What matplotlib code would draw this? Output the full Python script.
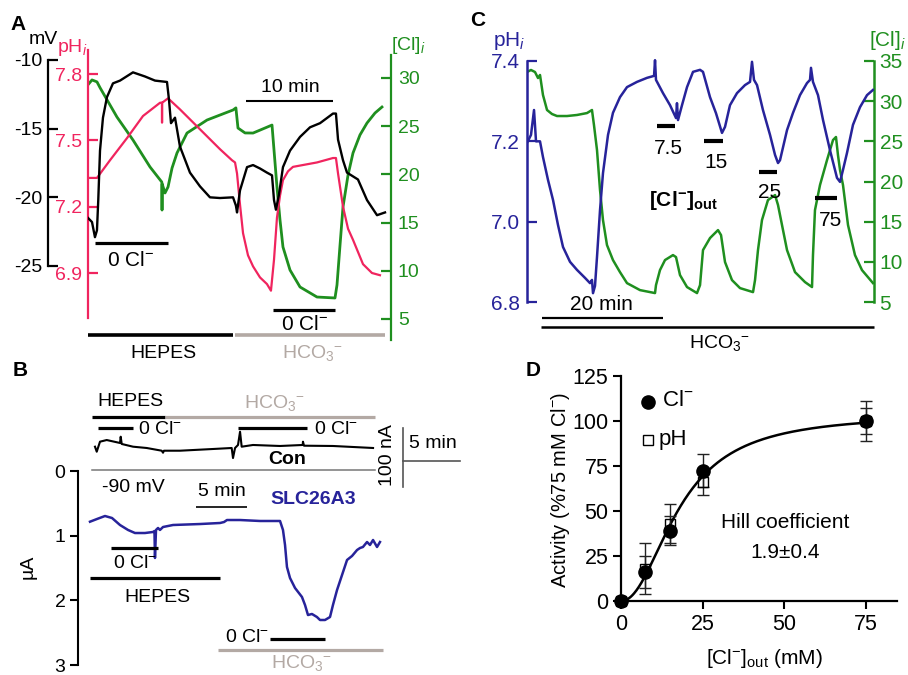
import numpy as np
import matplotlib
matplotlib.use("Agg")
import matplotlib.pyplot as plt
from matplotlib.transforms import blended_transform_factory as blend

plt.rcParams['font.family'] = ['Liberation Sans', 'DejaVu Sans']
plt.rcParams['mathtext.fontset'] = 'custom'
plt.rcParams['mathtext.rm'] = 'Liberation Sans'
plt.rcParams['mathtext.it'] = 'Liberation Sans:italic'
plt.rcParams['mathtext.bf'] = 'Liberation Sans:bold'
plt.rcParams['axes.unicode_minus'] = False

# ---------------- colours ----------------
RED = '#f0245e'
GREEN = '#1f8f1f'
BLUE = '#27239a'
GRAY = '#b3a9a4'
HCO3 = r'HCO$_{3}$$^{-}$'

# ---------------- Panel A data ----------------
A_time_black = [0, 0.46, 0.8, 1.03, 1.18, 1.38, 1.72, 2.18, 2.87, 3.68, 5.17, 6.55, 7.7, 9.08, 9.31,
                9.54, 10.0, 10.57, 11.72, 12.87, 14.02, 15.17, 16.67, 17.0, 17.13, 17.47, 18.28,
                18.97, 19.77, 20.57, 21.15, 21.38, 21.6, 21.95, 22.41, 23.22, 24.37, 25.52, 26.67,
                28.16, 28.5, 28.74, 29.31, 29.77, 31.03, 32.07, 33.22, 34.14]
A_mv = [-21.5, -21.8, -22.9, -22.4, -20.2, -16.6, -14.2, -12.7, -11.7, -11.5, -10.9, -11.2, -11.5,
        -11.6, -12.9, -14.6, -14.2, -16.3, -18.2, -19.2, -20.0, -20.05, -20.0, -20.6, -21.1, -19.5,
        -17.8, -17.65, -17.9, -18.2, -18.4, -20.2, -20.9, -19.8, -17.8, -16.6, -15.6, -14.9, -14.6,
        -13.9, -13.9, -15.8, -17.3, -18.2, -18.7, -20.2, -21.3, -21.1]

A_time_red = [0, 1.03, 2.53, 4.48, 6.32, 8.28, 8.5, 8.51, 8.52, 9.2, 10.57, 12.87, 15.17, 16.55, 16.9,
              17.13, 17.47, 17.82, 18.39, 18.97, 19.77, 20.57, 21.03, 21.38, 21.72, 22.07, 22.41,
              22.99, 23.56, 24.94, 26.32, 28.16, 28.5, 28.74, 29.31, 29.89, 30.46, 31.61, 32.64, 33.56]
A_ph = [7.33, 7.33, 7.41, 7.51, 7.61, 7.67, 7.67, 7.58, 7.67, 7.69, 7.64, 7.55, 7.46, 7.41, 7.40,
        7.35, 7.21, 7.08, 6.98, 6.93, 6.88, 6.85, 6.82, 6.96, 7.15, 7.25, 7.32, 7.36, 7.38, 7.39,
        7.40, 7.42, 7.42, 7.35, 7.20, 7.10, 7.05, 6.94, 6.90, 6.89]

A_time_green = [0, 0.46, 1.03, 1.38, 3.33, 5.17, 7.13, 8.49, 8.51, 8.53, 8.85, 9.2, 9.66, 10.23, 11.38,
                13.68, 15.17, 16.67, 17.0, 17.24, 18.05, 18.97, 20.34, 21.15, 21.38, 21.72, 22.07,
                22.41, 23.22, 24.37, 26.32, 28.39, 28.62, 28.97, 29.31, 29.89, 30.46, 31.26, 32.07,
                32.99, 33.79]
A_cl = [29.3, 29.8, 29.6, 29.0, 25.95, 23.57, 20.77, 19.2, 16.3, 19.0, 18.07, 18.7, 20.66, 22.22,
        24.29, 25.64, 26.16, 26.68, 26.9, 24.81, 24.3, 24.29, 24.81, 25.12, 22.53, 18.69, 15.27,
        12.47, 10.08, 8.32, 7.28, 7.18, 8.53, 12.68, 16.62, 19.94, 22.22, 24.09, 25.33, 26.37, 26.99]

A_mv_ticks = [-10, -15, -20, -25]
A_mv_ticklabels = ['-10', '-15', '-20', '-25']
A_ph_ticks = [7.8, 7.5, 7.2, 6.9]
A_cl_ticks = [30, 25, 20, 15, 10, 5]
A_zero_cl_periods = [(0.8, 9.2), (21.26, 28.39)]
A_hepes_period = (0.0, 16.67)
A_hco3_period = (16.9, 34.14)
A_scale_period = (18.16, 28.16)   # 10 min

# ---------------- Panel B data ----------------
B_time_con = [0.49, 0.66, 0.98, 1.64, 2.94, 3.01, 3.11, 4.22, 5.56, 7.03, 7.16, 7.25, 8.82, 12.06,
              13.89, 14.02, 14.22, 14.51, 14.71, 14.87, 15.98, 18.63, 20.85, 20.88, 20.98, 23.82, 27.75]
B_con_na = [39.5, 31.0, 48.0, 50.8, 45.8, 56.4, 44.1, 39.5, 37.3, 32.7, 29.3, 32.7, 32.7, 35.6,
            37.3, 20.3, 37.3, 42.4, 64.9, 39.5, 42.4, 40.7, 42.4, 48.0, 41.2, 40.7, 37.3]
B_time_blue = [0, 0.69, 1.47, 2.16, 2.94, 3.73, 4.41, 5.39, 6.18, 6.32, 6.37, 6.47, 6.67, 6.86, 7.16,
               8.14, 10.78, 12.75, 13.14, 13.43, 14.71, 16.67, 18.63, 18.92, 19.12, 19.31, 19.61,
               20.1, 20.78, 21.08, 21.37, 21.76, 22.25, 22.55, 23.04, 23.53, 23.82, 24.22, 24.71,
               25.2, 25.69, 26.18, 26.47, 26.76, 27.16, 27.45, 27.75, 28.14, 28.43]
B_ua = [0.784, 0.742, 0.696, 0.727, 0.835, 0.912, 0.959, 0.959, 0.943, 0.928, 1.345, 0.912, 0.881,
        0.912, 0.866, 0.835, 0.820, 0.804, 0.789, 0.758, 0.758, 0.773, 0.773, 0.912, 1.144, 1.484,
        1.655, 1.809, 1.948, 2.072, 2.227, 2.211, 2.258, 2.304, 2.304, 2.258, 2.072, 1.840, 1.608,
        1.376, 1.314, 1.222, 1.191, 1.175, 1.098, 1.144, 1.067, 1.175, 1.098]
B_ua_ticks = [0, 1, 2, 3]
B_top_hepes = (0.2, 7.35)
B_top_hco3 = (7.35, 27.94)
B_top_zero_cl = [(0.78, 4.22), (14.51, 21.27)]
B_baseline = (0.2, 27.94)
B_low_zero_cl = [(2.06, 6.67), (17.65, 23.04)]
B_low_hepes = (0.0, 12.75)
B_low_hco3 = (12.55, 28.73)
B_scale_period = (10.39, 15.39)   # 5 min

# ---------------- Panel C data ----------------
C_time_blue = [0, 0.66, 1.16, 1.49, 2.15, 2.64, 3.47, 4.30, 5.12, 5.95,
               7.11, 8.26, 9.59, 10.41, 10.74, 10.91, 11.24, 11.57, 12.07, 12.56,
               13.39, 14.21, 15.37, 16.53, 18.18, 19.83, 21.0, 21.16, 21.32, 22.48,
               23.64, 24.63, 24.79, 24.96, 25.62, 26.45, 27.44, 28.6, 29.09, 30.25,
               31.24, 32.23, 32.73, 33.55, 34.71, 36.03, 36.86, 37.19, 37.52, 38.02,
               39.0, 40.17, 41.0, 41.49, 41.82, 42.98, 43.97, 45.12, 46.28, 46.78,
               46.94, 47.27, 48.1, 48.93, 50.08, 51.24, 51.74, 52.23, 52.89, 53.88,
               55.04, 56.2, 57.19]
C_ph = [7.196, 7.216, 7.278, 7.20, 7.20, 7.161, 7.104, 7.054, 6.992, 6.937,
        6.90, 6.88, 6.86, 6.847, 6.855, 6.822, 6.84, 6.912, 7.029, 7.121,
        7.216, 7.271, 7.31, 7.335, 7.348, 7.358, 7.363, 7.402, 7.353, 7.32,
        7.29, 7.258, 7.295, 7.253, 7.29, 7.335, 7.373, 7.378, 7.373, 7.31,
        7.27, 7.221, 7.236, 7.29, 7.32, 7.34, 7.348, 7.398, 7.353, 7.34,
        7.278, 7.216, 7.166, 7.146, 7.153, 7.228, 7.271, 7.315, 7.345, 7.353,
        7.383, 7.348, 7.315, 7.253, 7.178, 7.109, 7.099, 7.129, 7.171, 7.241,
        7.285, 7.315, 7.328]
C_time_green = [0, 0.66, 1.32, 1.82, 2.15, 2.64, 3.31, 4.13, 4.96, 6.61,
                8.26, 9.92, 10.74, 11.07, 11.57, 12.07, 12.56, 13.22, 14.21, 15.37,
                16.53, 18.68, 21.16, 21.32, 21.98, 22.81, 24.13, 24.63, 25.29, 26.45,
                28.1, 28.6, 29.09, 30.25, 31.57, 32.07, 32.73, 33.88, 35.21, 37.36,
                37.69, 38.18, 38.84, 39.83, 41.0, 41.49, 42.15, 42.98, 44.3, 45.95,
                47.11, 47.27, 47.6, 48.43, 49.59, 50.58, 51.07, 51.4, 51.74, 52.23,
                53.06, 54.21, 55.37, 57.19]
C_cl = [33.63, 33.88, 33.63, 32.88, 33.26, 30.77, 28.9, 28.4, 28.15, 28.15,
        28.28, 28.52, 28.9, 27.03, 23.92, 18.94, 15.2, 12.09, 10.22, 8.72,
        7.35, 6.48, 6.11, 7.1, 8.97, 10.22, 10.84, 10.59, 8.35, 6.86,
        6.11, 7.1, 11.46, 12.96, 13.95, 13.33, 9.97, 7.73, 6.73, 6.23,
        7.73, 11.46, 15.2, 17.69, 18.31, 17.07, 14.58, 11.46, 8.72, 7.48,
        6.86, 10.84, 16.44, 19.56, 22.67, 25.16, 25.54, 23.29, 21.43, 19.56,
        14.58, 10.84, 8.97, 7.35]
C_ph_ticks = [6.8, 7.0, 7.2, 7.4]
C_ph_ticklabels = ['6.8', '7.0', '7.2', '7.4']
C_cl_ticks = [5, 10, 15, 20, 25, 30, 35]
C_cl_out_labels = ['7.5', '15', '25', '75']
C_cl_out_periods = [(21.49, 24.46), (29.26, 32.4), (38.35, 41.32), (47.6, 51.24)]
C_hco3_period = (2.31, 57.36)
C_scale_period = (2.48, 22.48)    # 20 min

# ---------------- Panel D data ----------------
D_conc = [0, 7.5, 15, 25, 75]
D_cl = [0, 16, 39, 72.5, 100]
D_cl_err = [0, 9, 8, 9, 7]
D_ph = [0, 18, 43, 66, 100]
D_ph_err = [0, 14, 11, 7, 11]
D_xticks = [0, 25, 50, 75]
D_yticks = [0, 25, 50, 75, 100, 125]
hill_vmax, hill_k, hill_n = 104.0, 18.0, 2.1

# ================= figure =================
W, H = 908, 675
fig = plt.figure(figsize=(W / 100, H / 100), dpi=100)

ov = fig.add_axes([0, 0, 1, 1], zorder=20)
ov.set_xlim(0, W)
ov.set_ylim(H, 0)
ov.axis('off')
ov.patch.set_alpha(0)


def ax_px(x0, y0, x1, y1, z=1):
    a = fig.add_axes([x0 / W, 1 - y1 / H, (x1 - x0) / W, (y1 - y0) / H], zorder=z)
    a.patch.set_alpha(0)
    for s in a.spines.values():
        s.set_visible(False)
    a.set_xticks([])
    a.set_yticks([])
    return a


def ylim_from(a, y0, y1, p1, v1, p2, v2):
    k = (v2 - v1) / (p2 - p1)
    a.set_ylim(v1 + (y1 - p1) * k, v1 + (y0 - p1) * k)


def tbar(a, period, ypx, color='black', lw=2.3):
    tr = blend(a.transData, ov.transData)
    ov.plot(list(period), [ypx, ypx], color=color, lw=lw, transform=tr,
            solid_capstyle='butt', clip_on=False)


def txt(x, y, s, size=14, color='black', **kw):
    kw.setdefault('ha', 'center')
    kw.setdefault('va', 'center')
    ov.text(x, y, s, fontsize=size, color=color, **kw)


# ---------------- Panel A ----------------
ax0, ax1, ay0, ay1 = 88, 391, 50, 340
tmax = (ax1 - ax0) / 8.7

aG = ax_px(ax0, ay0, ax1, ay1, z=2)
aG.set_xlim(0, tmax)
ylim_from(aG, ay0, ay1, 78, 30, 319, 5)
aR = ax_px(ax0, ay0, ax1, ay1, z=3)
aR.set_xlim(0, tmax)
ylim_from(aR, ay0, ay1, 74, 7.8, 273, 6.9)
aK = ax_px(ax0, ay0, ax1, ay1, z=4)
aK.set_xlim(0, tmax)
ylim_from(aK, ay0, ay1, 60, -10, 266, -25)

aG.plot(A_time_green, A_cl, color=GREEN, lw=2.0)
aR.plot(A_time_red, A_ph, color=RED, lw=1.6)
aK.plot(A_time_black, A_mv, color='black', lw=1.7)

# mV axis
sp = aK.spines['left']
sp.set_visible(True)
sp.set_position(('axes', (48 - ax0) / (ax1 - ax0)))
sp.set_bounds(-25, -10)
sp.set_linewidth(1.6)
aK.set_yticks(A_mv_ticks)
aK.set_yticklabels(A_mv_ticklabels)
aK.tick_params(axis='y', direction='in', length=7, width=1.6, labelsize=14, pad=4)
# pH axis
sp = aR.spines['left']
sp.set_visible(True)
sp.set_color(RED)
sp.set_linewidth(1.6)
lo, hi = aR.get_ylim()
sp.set_bounds(7.8 - (318 - 74) / 221.1, hi)
aR.set_yticks(A_ph_ticks)
aR.tick_params(axis='y', direction='in', length=7, width=1.6, labelsize=14, pad=4,
               color=RED, labelcolor=RED)
# Cl axis
sp = aG.spines['right']
sp.set_visible(True)
sp.set_color(GREEN)
sp.set_linewidth(1.6)
lo, hi = aG.get_ylim()
sp.set_bounds(lo, 30 + (78 - 55) / 9.64)
aG.yaxis.set_ticks_position('right')
aG.set_yticks(A_cl_ticks)
aG.tick_params(axis='y', direction='in', length=7, width=1.6, labelsize=14, pad=5,
               color=GREEN, labelcolor=GREEN, left=False, labelleft=False,
               right=True, labelright=True)

tbar(aK, A_zero_cl_periods[0], 243)
tbar(aK, A_zero_cl_periods[1], 310)
tbar(aK, A_scale_period, 101, lw=1.5)
tbar(aK, A_hepes_period, 335, lw=2.6)
tbar(aK, A_hco3_period, 335, color=GRAY, lw=2.6)

txt(18, 24, 'A', 15, weight='bold')
txt(43, 40, 'mV', 14)
txt(72, 48, r'pH$_{i}$', 14, RED)
txt(408, 46, r'[Cl]$_{i}$', 14, GREEN)
txt(290, 88, '10 min', 14)
txt(131, 261, r'0 Cl$^{-}$', 15)
txt(305, 325, r'0 Cl$^{-}$', 15)
txt(163, 353, 'HEPES', 14)
txt(313, 353, HCO3, 14, GRAY)

# ---------------- Panel C ----------------
cx0, cx1, cy0, cy1 = 527, 874, 50, 320
ctmax = (cx1 - cx0) / 6.05
cG = ax_px(cx0, cy0, cx1, cy1, z=2)
cG.set_xlim(0, ctmax)
ylim_from(cG, cy0, cy1, 61, 35, 302, 5)
cB = ax_px(cx0, cy0, cx1, cy1, z=3)
cB.set_xlim(0, ctmax)
ylim_from(cB, cy0, cy1, 61, 7.4, 302, 6.8)

cG.plot(C_time_green, C_cl, color=GREEN, lw=1.8)
cB.plot(C_time_blue, C_ph, color=BLUE, lw=1.8)

sp = cB.spines['left']
sp.set_visible(True)
sp.set_color(BLUE)
sp.set_linewidth(1.8)
sp.set_bounds(6.8, 7.4)
cB.set_yticks(C_ph_ticks)
cB.set_yticklabels(C_ph_ticklabels)
cB.tick_params(axis='y', direction='in', length=7, width=1.6, labelsize=15, pad=5,
               color=BLUE, labelcolor=BLUE)
sp = cG.spines['right']
sp.set_visible(True)
sp.set_color(GREEN)
sp.set_linewidth(1.8)
sp.set_bounds(5, 35)
cG.yaxis.set_ticks_position('right')
cG.set_yticks(C_cl_ticks)
cG.tick_params(axis='y', direction='in', length=7, width=1.6, labelsize=15, pad=4,
               color=GREEN, labelcolor=GREEN, left=False, labelleft=False,
               right=True, labelright=True)

c_bar_y = [126, 141, 172, 198]
c_lab_xy = [(668, 148), (716, 162), (770, 192), (830, 220)]
for per, yb, lab, (lx, ly) in zip(C_cl_out_periods, c_bar_y, C_cl_out_labels, c_lab_xy):
    tbar(cB, per, yb, lw=3.0)
    txt(lx, ly, lab, 15)
tbar(cB, C_scale_period, 318, lw=1.6)
tbar(cB, C_hco3_period, 327, lw=1.8)

txt(478, 20, 'C', 15, weight='bold')
txt(509, 41, r'pH$_{i}$', 15, BLUE)
txt(888, 40, r'[Cl]$_{i}$', 15, GREEN)
txt(683, 200, r'$\mathbf{[Cl^{-}]_{out}}$', 15)
txt(601, 305, '20 min', 15)
txt(720, 343, HCO3, 14)

# ---------------- Panel B ----------------
bx0, bx1 = 78, 400
bt0 = (bx0 - 90) / 10.2
bt1 = (bx1 - 90) / 10.2
bI = ax_px(bx0, 471, bx1, 665, z=3)
bI.set_xlim(bt0, bt1)
ylim_from(bI, 471, 665, 471, 0, 665, 3)
bI.plot(B_time_blue, B_ua, color=BLUE, lw=1.8)
sp = bI.spines['left']
sp.set_visible(True)
sp.set_linewidth(1.5)
sp.set_bounds(0, 3)
bI.set_yticks(B_ua_ticks)
bI.tick_params(axis='y', direction='out', length=6, width=1.5, labelsize=14, pad=3)

bC = ax_px(bx0, 420, bx1, 470, z=3)
bC.set_xlim(bt0, bt1)
bC.set_ylim(0, 50 / 0.59)
bC.plot(B_time_con, B_con_na, color='black', lw=1.5)
bC.plot(list(B_baseline), [0, 0], color='#777777', lw=1.1, clip_on=False)

tbar(bI, B_top_hepes, 417, lw=2.3)
tbar(bI, B_top_hco3, 417, color=GRAY, lw=2.3)
for p in B_top_zero_cl:
    tbar(bI, p, 428, lw=2.3)
tbar(bI, B_low_zero_cl[0], 548, lw=2.3)
tbar(bI, B_low_zero_cl[1], 639, lw=2.3)
tbar(bI, B_low_hepes, 578, lw=2.3)
tbar(bI, B_low_hco3, 650, color=GRAY, lw=2.3)
tbar(bI, B_scale_period, 507, lw=1.2)

# scale bar of the top trace (100 nA / 5 min)
ov.plot([403, 403], [428, 487], color='#555555', lw=1.2)
ov.plot([403, 460], [461, 461], color='#555555', lw=1.2)

txt(20, 370, 'B', 15, weight='bold')
txt(130, 401, 'HEPES', 14)
txt(275, 403, HCO3, 14, GRAY)
txt(160, 430, r'0 Cl$^{-}$', 14)
txt(336, 430, r'0 Cl$^{-}$', 14)
txt(287, 460, 'Con', 14, weight='bold')
txt(388, 455, '100 nA', 14, rotation=90)
txt(433, 444, '5 min', 14)
txt(133, 487, '-90 mV', 14)
txt(222, 492, '5 min', 14)
txt(313, 500, 'SLC26A3', 14, BLUE, weight='bold')
txt(135, 564, r'0 Cl$^{-}$', 14)
txt(157, 597, 'HEPES', 14)
txt(247, 637, r'0 Cl$^{-}$', 14)
txt(302, 663, HCO3, 14, GRAY)
txt(28, 567, 'µA', 14, rotation=90)

# ---------------- Panel D ----------------
dx0, dx1, dy0, dy1 = 621, 897, 376, 601
aD = fig.add_axes([dx0 / W, 1 - dy1 / H, (dx1 - dx0) / W, (dy1 - dy0) / H], zorder=3)
aD.patch.set_alpha(0)
aD.set_xlim(0, (dx1 - dx0) / 3.265)
aD.set_ylim(0, 125)
for s in ['top', 'right']:
    aD.spines[s].set_visible(False)
for s in ['left', 'bottom']:
    aD.spines[s].set_linewidth(1.6)
aD.set_xticks(D_xticks)
aD.set_yticks(D_yticks)
aD.tick_params(direction='out', length=6, width=1.5, labelsize=15.5, pad=3)

xf = np.linspace(0, 75, 300)
aD.plot(xf, hill_vmax * xf ** hill_n / (hill_k ** hill_n + xf ** hill_n), color='black', lw=1.8,
        zorder=2)
aD.errorbar(D_conc, D_ph, yerr=D_ph_err, fmt='none', ecolor='#222222', elinewidth=1.0,
            capsize=4, capthick=1.0, zorder=3, clip_on=False)
aD.errorbar(D_conc, D_cl, yerr=D_cl_err, fmt='none', ecolor='#222222', elinewidth=1.0,
            capsize=4, capthick=1.0, zorder=3, clip_on=False)
aD.plot(D_conc, D_ph, 's', ms=7, mfc='none', mec='black', mew=1.0, zorder=4, clip_on=False)
aD.plot(D_conc, D_cl, 'o', ms=9.5, color='black', zorder=5, clip_on=False)

ov.plot([648], [402], 'o', ms=9.5, color='black')
ov.plot([648], [440], 's', ms=7, mfc='none', mec='black', mew=1.0)
txt(662, 401, r'Cl$^{-}$', 16, ha='left')
txt(659, 440, 'pH', 16, ha='left')
txt(785, 523, 'Hill coefficient', 15)
txt(785, 553, '1.9±0.4', 15)
txt(561, 490, r'Activity (%75 mM Cl$^{-}$)', 14.5, rotation=90)
txt(764, 658, r'[Cl$^{-}$]$_{\rm out}$ (mM)', 15)
txt(533, 370, 'D', 15, weight='bold')

fig.savefig('out.png', dpi=100)
